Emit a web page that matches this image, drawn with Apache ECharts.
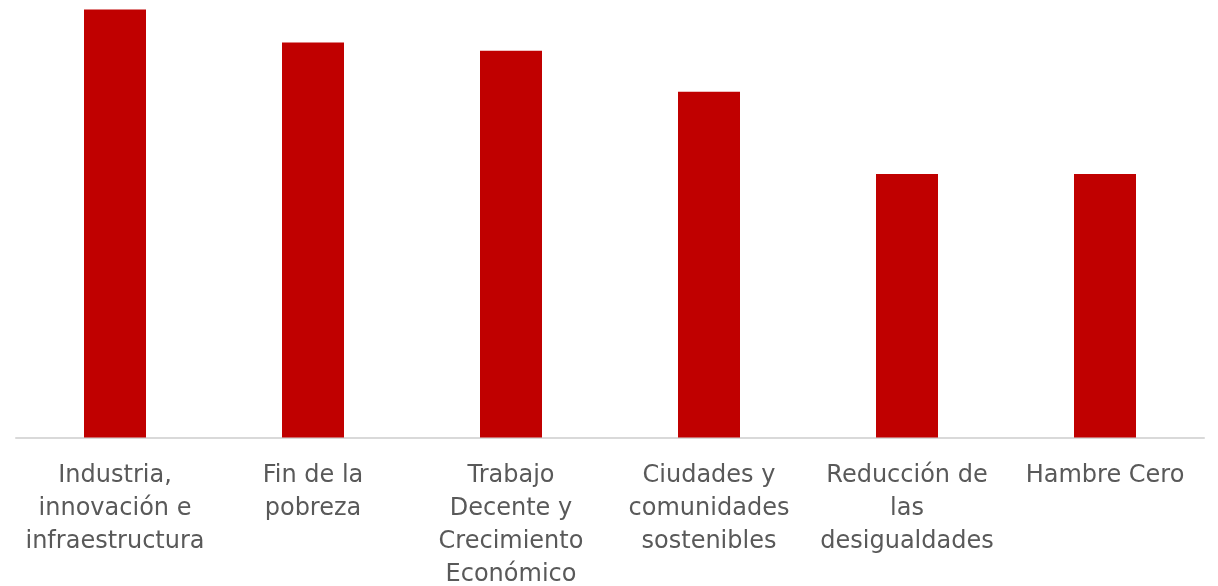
<!DOCTYPE html>
<html>
<head>
<meta charset="utf-8">
<script src="https://cdn.jsdelivr.net/npm/echarts@6/dist/echarts.min.js"></script>
<style>
html,body{margin:0;padding:0;background:#fff;overflow:hidden;}
#chart{width:1218px;height:586px;}
</style>
</head>
<body>
<div id="chart"></div>
<script>
const categories = [
  "Industria, innovación e infraestructura",
  "Fin de la pobreza",
  "Trabajo Decente y Crecimiento Económico",
  "Ciudades y comunidades sostenibles",
  "Reducción de las desigualdades",
  "Hambre Cero"
];
const tickLabels = [
  "Industria,\ninnovación e\ninfraestructura",
  "Fin de la\npobreza",
  "Trabajo\nDecente y\nCrecimiento\nEconómico",
  "Ciudades y\ncomunidades\nsostenibles",
  "Reducción de\nlas\ndesigualdades",
  "Hambre Cero"
];
const values = [52, 48, 47, 42, 32, 32];

const chart = echarts.init(document.getElementById('chart'));
chart.setOption({
  animation: false,
  grid: { left: 16, right: 14, top: 9.5, height: 428, containLabel: false, outerBoundsMode: 'none' },
  xAxis: {
    type: 'category',
    data: categories,
    axisLine: { show: true, lineStyle: { color: '#d9d9d9', width: 2 } },
    axisTick: { show: false },
    axisLabel: {
      interval: 0,
      margin: 22,
      color: '#595959',
      fontFamily: 'DejaVu Sans',
      fontSize: 24,
      lineHeight: 33,
      formatter: (v, i) => tickLabels[i]
    }
  },
  yAxis: {
    type: 'value',
    min: 0,
    max: 52,
    show: false,
    splitLine: { show: false }
  },
  series: [{
    type: 'bar',
    data: values,
    barWidth: 62,
    itemStyle: { color: '#c00000' }
  }]
});
</script>
</body>
</html>
